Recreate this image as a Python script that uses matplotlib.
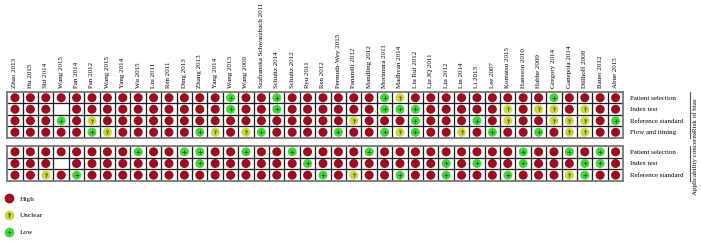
import matplotlib.pyplot as plt
from matplotlib.lines import Line2D

plt.rcParams['font.family'] = ['Liberation Serif', 'DejaVu Serif']

studies = ["Zhao 2013", "Hu 2015", "Shi 2014", "Wang 2015", "Pan 2014", "Pan 2012",
           "Wang 2015", "Yang 2014", "Wu 2015", "Liu 2011", "Ren 2011", "Ding 2013",
           "Zhang 2013", "Yang 2014", "Wang 2013", "Wang 2009",
           "Szafranska Schwarzbach 2011", "Schultz 2014", "Schultz 2012", "Ryu 2011",
           "Ren 2012", "Permuth-Wey 2015", "Panarelli 2012", "Mandling 2012",
           "Morimura 2011", "Madhvan 2014", "Liu Rui 2012", "Liu JQ 2011", "Liu 2012",
           "Lin 2014", "Li 2013", "Lee 2007", "Komatsu 2015", "Hansson 2010",
           "Habbe 2009", "Gregory 2014", "Ganepola 2014", "Dillhoff 2008",
           "Bauer 2012", "Abue 2015"]

# H = high, U = unclear, L = low, - = not reported
bias_domains = ["Patient selection", "Index test", "Reference standard", "Flow and timing"]
bias_scores = [
    "HHHHHHHHHH" "HHHHLHHLHH" "HHHHLUHHHH" "HHHHHLHHHH",
    "HHH-HHHHHH" "HHHHLHHLHH" "HHHHLLLHHH" "HHUHUUHUHH",
    "HHHLHUHHHH" "HHHHHHHHHH" "HHUHHHLHHH" "LHUHHUUUHL",
    "HHHHHLUHHH" "HHLUHULHHH" "HLHHLULHHU" "HLHHLHUUHH",
]

appl_domains = ["Patient selection", "Index test", "Reference standard"]
appl_scores = [
    "HHHHHHHHLH" "HLLHHLHHLH" "HHHLHHHHHH" "HHHLHHLHLH",
    "HHH-HHHHHH" "HHLHHHHHHL" "HHHHHHHHLH" "LHHLHHHLLH",
    "HHUHLHHHHH" "HHHHHHHHHH" "LHUHHLHHLH" "HHLHHHULHH",
]

levels = {"H": ("High", "#9a0c1e", "o"),
          "U": ("Unclear", "#c9d63c", "$?$"),
          "L": ("Low", "#45d43a", "+")}

fig = plt.figure(figsize=(7.01, 2.41), dpi=100)
ax1 = fig.add_axes([0.0104, 0.4274, 0.8787, 0.1909])
ax2 = fig.add_axes([0.0104, 0.249, 0.8787, 0.1452])


def draw_block(ax, domains, scores):
    n = len(domains)
    for r, row in enumerate(scores):
        for c, s in enumerate(row):
            if s == "-":
                continue
            color = levels[s][1]
            ax.scatter(c, r, s=42, color=color, edgecolors="none", zorder=3)
            if s == "L":
                ax.scatter(c, r, s=9, marker="+", color="#1d5a12", linewidths=0.6, zorder=4)
            elif s == "U":
                ax.scatter(c, r, s=7, marker="$?$", color="#555a10", linewidths=0.3, zorder=4)
    ax.set_xlim(-0.5, len(studies) - 0.5)
    ax.set_ylim(n - 0.5, -0.5)
    ax.set_xticks([i + 0.5 for i in range(len(studies) - 1)], minor=True)
    ax.set_yticks([i + 0.5 for i in range(n - 1)], minor=True)
    ax.grid(which="minor", color="#1a1a1a", linewidth=0.9)
    ax.tick_params(which="both", length=0)
    ax.yaxis.tick_right()
    ax.set_yticks(range(n))
    ax.set_yticklabels(domains, fontsize=5)
    ax.tick_params(axis="y", pad=5)
    for sp in ax.spines.values():
        sp.set_color("#777777")
        sp.set_linewidth(1.3)


draw_block(ax1, bias_domains, bias_scores)
draw_block(ax2, appl_domains, appl_scores)

ax1.xaxis.tick_top()
ax1.set_xticks(range(len(studies)))
ax1.set_xticklabels(studies, rotation=90, fontsize=5)
ax1.tick_params(axis="x", pad=3)
ax2.set_xticks([])

# group brackets on the right
for ax, label in [(ax1, "Risk of bias"), (ax2, "Applicability concerns")]:
    ax.plot([1.109, 1.109], [0.0, 1.0], transform=ax.transAxes, color="#555555",
            linewidth=0.8, clip_on=False)
    ax.text(1.118, 0.5, label, transform=ax.transAxes, rotation=90, fontsize=5,
            ha="center", va="center")

handles = []
for key in ["H", "U", "L"]:
    name, color, mark = levels[key]
    circ = Line2D([], [], marker="o", linestyle="none", markersize=7,
                  markerfacecolor=color, markeredgecolor="none")
    if key == "H":
        handles.append((circ,))
    else:
        sym = Line2D([], [], marker=mark, linestyle="none", markersize=2.6,
                     color="#1d5a12" if key == "L" else "#555a10", markeredgewidth=0.5)
        handles.append((circ, sym))

fig.legend(handles, ["High", "Unclear", "Low"], loc="upper left",
           bbox_to_anchor=(0.0, 0.21), frameon=False, fontsize=5.2,
           handlelength=1.2, handletextpad=0.9, labelspacing=1.5, borderpad=0.2)

fig.savefig("out.png", dpi=100)
